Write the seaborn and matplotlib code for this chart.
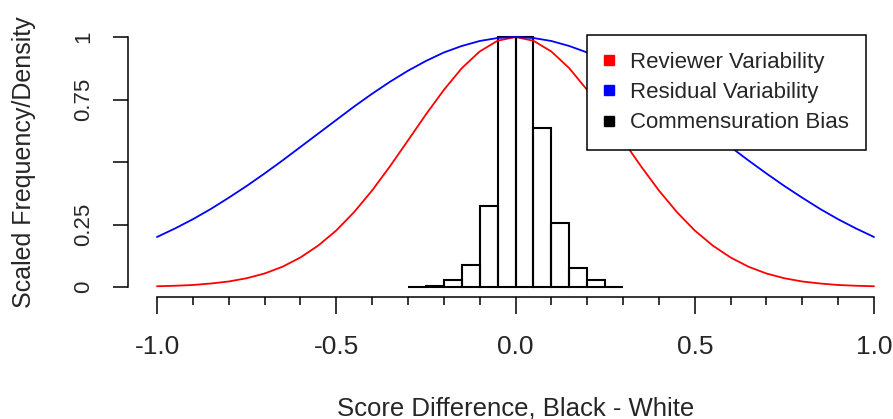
import numpy as np
import pandas as pd
import matplotlib
matplotlib.use("Agg")
import matplotlib.pyplot as plt
from matplotlib.lines import Line2D
import seaborn as sns

# ---- data ----
x_grid = [-1.00, -0.95, -0.90, -0.85, -0.80, -0.75, -0.70, -0.65, -0.60, -0.55,
          -0.50, -0.45, -0.40, -0.35, -0.30, -0.25, -0.20, -0.15, -0.10, -0.05,
          0.00, 0.05, 0.10, 0.15, 0.20, 0.25, 0.30, 0.35, 0.40, 0.45,
          0.50, 0.55, 0.60, 0.65, 0.70, 0.75, 0.80, 0.85, 0.90, 0.95, 1.00]

reviewer_var = [0.003, 0.005, 0.008, 0.014, 0.022, 0.035, 0.054, 0.081, 0.118, 0.166,
                0.226, 0.300, 0.386, 0.483, 0.586, 0.690, 0.788, 0.875, 0.942, 0.985,
                1.000, 0.985, 0.942, 0.875, 0.788, 0.690, 0.586, 0.483, 0.386, 0.300,
                0.226, 0.166, 0.118, 0.081, 0.054, 0.035, 0.022, 0.014, 0.008, 0.005, 0.003]

residual_var = [0.200, 0.234, 0.271, 0.312, 0.357, 0.404, 0.454, 0.506, 0.560, 0.614,
                0.668, 0.722, 0.773, 0.821, 0.865, 0.904, 0.938, 0.964, 0.984, 0.996,
                1.000, 0.996, 0.984, 0.964, 0.938, 0.904, 0.865, 0.821, 0.773, 0.722,
                0.668, 0.614, 0.560, 0.506, 0.454, 0.404, 0.357, 0.312, 0.271, 0.234, 0.200]

bias_edges = [-0.30, -0.25, -0.20, -0.15, -0.10, -0.05, 0.00, 0.05, 0.10, 0.15, 0.20, 0.25, 0.30]
bias_centers = [-0.275, -0.225, -0.175, -0.125, -0.075, -0.025, 0.025, 0.075, 0.125, 0.175, 0.225, 0.275]
bias_heights = [0.0, 0.004, 0.028, 0.089, 0.325, 1.0, 1.0, 0.637, 0.255, 0.077, 0.027, 0.0]

legend_labels = ["Reviewer Variability", "Residual Variability", "Commensuration Bias"]
legend_colors = ["#FF0000", "#0000FF", "#000000"]

x_ticks = [-1.0, -0.5, 0.0, 0.5, 1.0]
x_ticklabels = ["-1.0", "-0.5", "0.0", "0.5", "1.0"]
x_minor = [-0.9, -0.8, -0.7, -0.6, -0.4, -0.3, -0.2, -0.1, 0.1, 0.2, 0.3, 0.4, 0.6, 0.7, 0.8, 0.9]
y_ticks = [0, 0.25, 0.5, 0.75, 1]
y_ticklabels = ["0", "0.25", "", "0.75", "1"]

# ---- styling ----
sns.set_style("white")
plt.rcParams['font.family'] = ['Liberation Sans', 'DejaVu Sans']

W, H = 893, 419
fig = plt.figure(figsize=(W / 100, H / 100), dpi=100)

# axes geometry in pixels (x: -1 -> 157px, 1 -> 874px ; y: 0 -> 287px, 1 -> 37px)
px_per_x = 358.5
px_per_y = 250.0
xlim = (-1.08, 1.08)
ylim = (-0.04, 1.04)
left_px = 515.5 + xlim[0] * px_per_x
width_px = (xlim[1] - xlim[0]) * px_per_x
bottom_px_from_top = 287 - ylim[0] * px_per_y
height_px = (ylim[1] - ylim[0]) * px_per_y
ax = fig.add_axes([left_px / W, (H - bottom_px_from_top) / H, width_px / W, height_px / H])
ax.set_facecolor("white")

df = pd.DataFrame({"x": x_grid, "reviewer": reviewer_var, "residual": residual_var})
sns.lineplot(data=df, x="x", y="reviewer", color="#FF0000", linewidth=1.3, ax=ax)
sns.lineplot(data=df, x="x", y="residual", color="#0000FF", linewidth=1.3, ax=ax)

sns.histplot(x=bias_centers, weights=bias_heights, bins=bias_edges, fill=False,
             color="black", linewidth=1.5, element="bars", ax=ax)

ax.set_xlim(*xlim)
ax.set_ylim(*ylim)

for s in ["top", "right"]:
    ax.spines[s].set_visible(False)
ax.spines["left"].set_bounds(0, 1)
ax.spines["bottom"].set_bounds(-1, 1)
for s in ["left", "bottom"]:
    ax.spines[s].set_color("black")
    ax.spines[s].set_linewidth(1.1)

ax.set_xticks(x_ticks)
ax.set_xticklabels(x_ticklabels)
ax.set_xticks(x_minor, minor=True)
ax.set_yticks(y_ticks)
ax.set_yticklabels(y_ticklabels, rotation=90, va="center")

ax.tick_params(axis="x", which="major", length=12, width=1.1, color="black",
               labelsize=19, pad=15.5, direction="out", bottom=True)
ax.tick_params(axis="x", which="minor", length=6, width=1.1, color="black",
               direction="out", bottom=True)
ax.tick_params(axis="y", which="major", length=10.8, width=1.1, color="black",
               labelsize=16, pad=14, direction="out", left=True)

ax.set_xlabel("Score Difference, Black - White", fontsize=18.5, va="baseline")
ax.xaxis.set_label_coords(0.5, -(415 - bottom_px_from_top) / height_px)
ax.set_ylabel("Scaled Frequency/Density", fontsize=18, va="center")
ax.yaxis.set_label_coords((24 - left_px) / width_px, 0.5)

fs_leg = 16
handles = [Line2D([], [], marker="s", linestyle="none", color=c, markersize=7)
           for c in legend_colors]
leg = ax.legend(handles, legend_labels, loc="upper left",
                bbox_to_anchor=(587 / W, 1 - 35 / H), bbox_transform=fig.transFigure,
                borderaxespad=0, frameon=True, fancybox=False, framealpha=1,
                edgecolor="black", fontsize=fs_leg, handlelength=0.5,
                handletextpad=0.69, labelspacing=0.42, borderpad=0.75)
leg.get_frame().set_linewidth(1.1)

fig.savefig("out.png", dpi=100)
